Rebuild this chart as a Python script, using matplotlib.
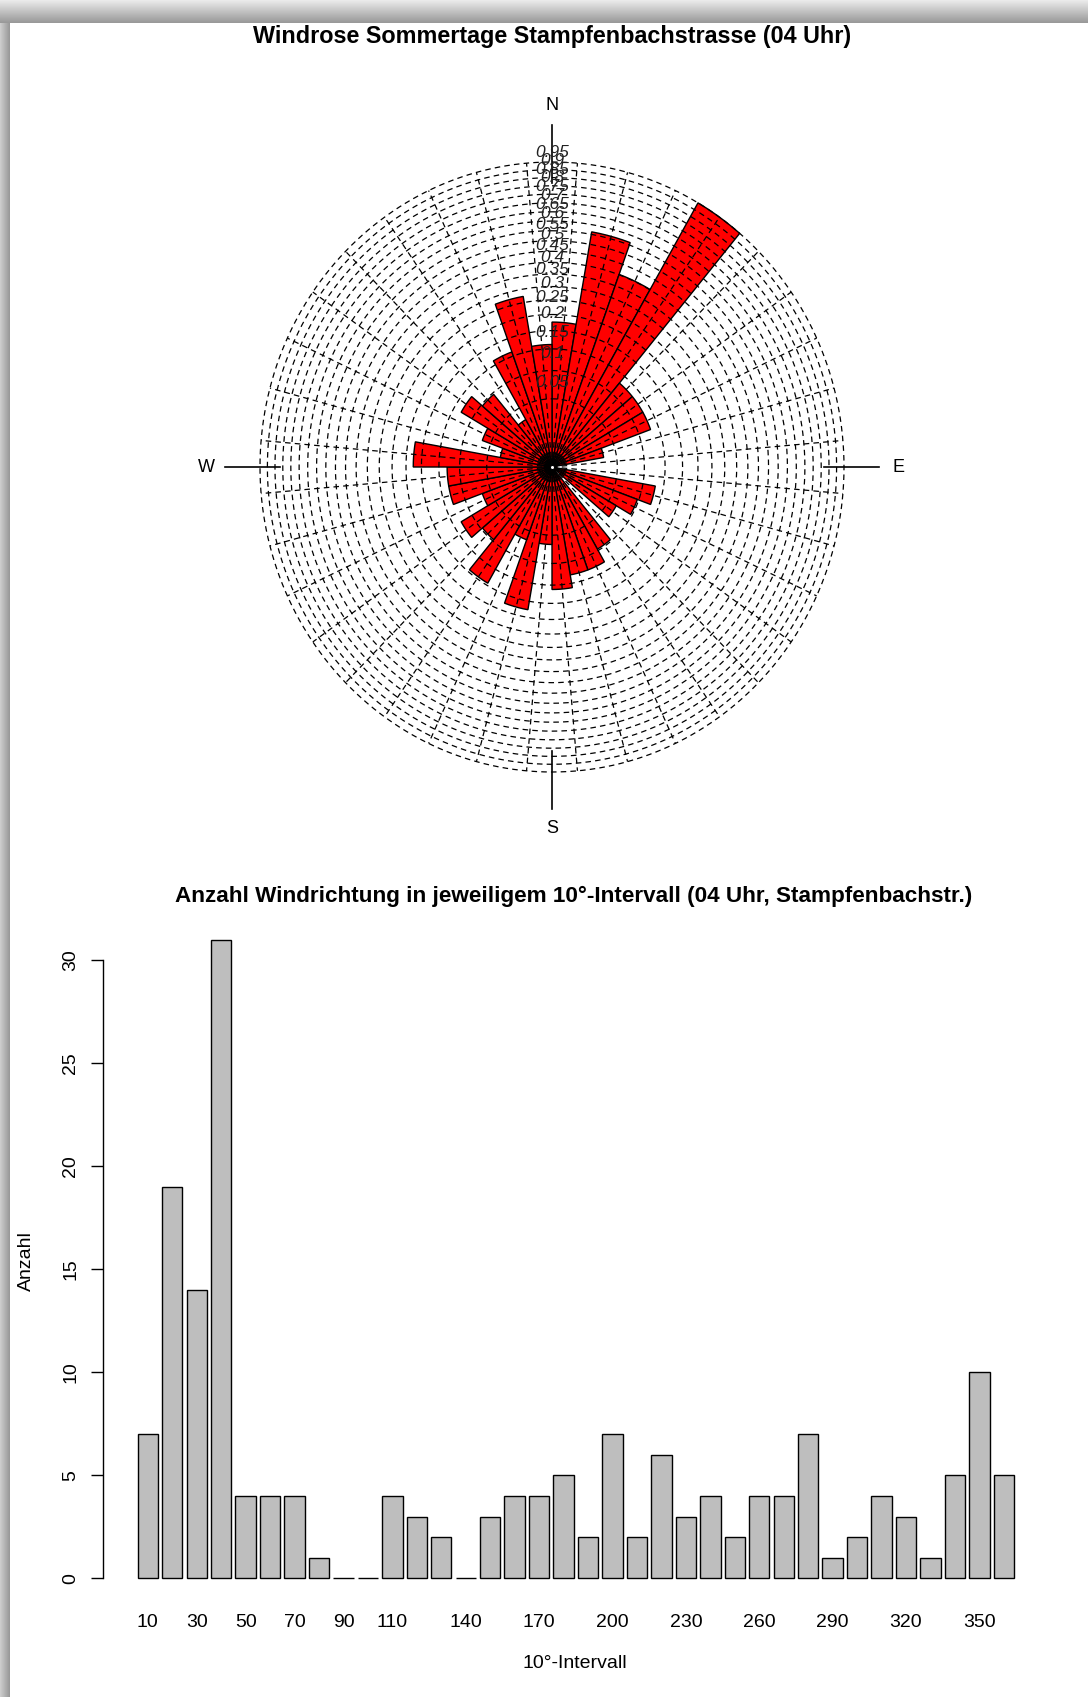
import numpy as np
import matplotlib
matplotlib.use("Agg")
import matplotlib.pyplot as plt
from matplotlib.patches import Polygon

W, H = 1088, 1697
DPI = 100

# wind direction counts per 10 degree interval (upper bound of interval)
intervals = np.arange(10, 361, 10)
counts = np.array([7, 19, 14, 31, 4, 4, 4, 1, 0, 0, 4, 3, 2, 0, 3, 4, 4, 5,
                   2, 7, 2, 6, 3, 4, 2, 4, 4, 7, 1, 2, 4, 3, 1, 5, 10, 5])
shown_labels = [10, 30, 50, 70, 90, 110, 140, 170, 200, 230, 260, 290, 320, 350]

ring_levels = np.round(np.arange(0.05, 1.0001, 0.05), 2)
ring_labels = ring_levels[:-1]
spoke_angles = np.arange(5, 360, 10)
compass = ["N", "E", "S", "W"]
compass_angles = [0, 90, 180, 270]

title_rose = "Windrose Sommertage Stampfenbachstrasse (04 Uhr)"
title_bar = "Anzahl Windrichtung in jeweiligem 10°-Intervall (04 Uhr, Stampfenbachstr.)"

plt.rcParams["font.family"] = ["Liberation Sans", "DejaVu Sans"]
plt.rcParams["lines.scale_dashes"] = False

fig = plt.figure(figsize=(W / DPI, H / DPI), dpi=DPI)


def px_axes(left, top, width, height):
    return fig.add_axes([left / W, 1 - (top + height) / H, width / W, height / H])


# window frame around the plot
bg = px_axes(0, 0, W, H)
frame = np.ones((H, W, 3))
top_h, left_w = 23, 10
frame[:top_h, :, :] = np.linspace(0.92, 0.6, top_h)[:, None, None]
frame[top_h:, :left_w, :] = np.linspace(0.8, 0.6, left_w)[None, :, None]
bg.imshow(frame, extent=(0, W, H, 0), aspect="auto", interpolation="nearest")
bg.set_xlim(0, W)
bg.set_ylim(H, 0)
bg.set_axis_off()

# ---- wind rose ----
cx, cy, rx, ry, lim = 552, 467, 292, 305, 1.3
ax = px_axes(cx - lim * rx, cy - lim * ry, 2 * lim * rx, 2 * lim * ry)
ax.set_xlim(-lim, lim)
ax.set_ylim(-lim, lim)
ax.set_axis_off()

for i, c in enumerate(counts):
    if c == 0:
        continue
    r = np.sqrt(c / counts.max())
    th = np.radians(np.linspace(i * 10, (i + 1) * 10, 6))
    xs = np.concatenate([[0], r * np.sin(th)])
    ys = np.concatenate([[0], r * np.cos(th)])
    ax.add_patch(Polygon(np.column_stack([xs, ys]), closed=True,
                         facecolor="red", edgecolor="black", lw=1.0, zorder=2))

t = np.linspace(0, 2 * np.pi, 721)
for lev in ring_levels:
    rr = np.sqrt(lev)
    ax.plot(rr * np.sin(t), rr * np.cos(t), color="black", lw=0.9,
            dashes=(4, 3), zorder=3)

for a in np.radians(spoke_angles):
    ax.plot([0, np.sin(a)], [0, np.cos(a)], color="black", lw=0.9,
            dashes=(4, 3), zorder=3)

for name, a in zip(compass, np.radians(compass_angles)):
    s, c = np.sin(a), np.cos(a)
    ax.plot([0.93 * s, 1.12 * s], [0.93 * c, 1.12 * c], color="black", lw=1.2, zorder=4)
    ax.text(1.185 * s, 1.185 * c, name, ha="center", va="center", fontsize=13)

ax.plot(0, 0, marker="o", ms=3, mfc="white", mec="black", mew=0.8, zorder=5)

for lev in ring_labels:
    ax.text(0, np.sqrt(lev) + 0.055, f"{lev:g}", fontstyle="italic", fontsize=12.5,
            ha="center", va="center", color="#222222", zorder=6)

fig.text(cx / W, 1 - 36 / H, title_rose, fontsize=16.8, fontweight="bold",
         ha="center", va="center")

# ---- bar chart ----
unit = 20.38
x0 = -1.50
bx = px_axes(103, 914, 46.656 * unit, 690)
bx.set_xlim(x0, x0 + 46.656)
bx.set_ylim(-1.24, 32.24)
lefts = 0.2 + np.arange(len(counts)) * 1.2
bx.bar(lefts, counts, width=1, align="edge", color="#bebebe",
       edgecolor="black", lw=1.0)
bx.patch.set_alpha(0)
for side in ["top", "right", "bottom"]:
    bx.spines[side].set_visible(False)
bx.spines["left"].set_bounds(0, 30)
bx.spines["left"].set_linewidth(1.0)
bx.set_yticks(range(0, 31, 5))
bx.tick_params(axis="y", length=9, width=1, labelsize=14, pad=8,
               labelrotation=90)
for lab in bx.get_yticklabels():
    lab.set_va("center")

label_idx = [list(intervals).index(v) for v in shown_labels]
bx.set_xticks(lefts[label_idx] + 0.5)
bx.set_xticklabels([str(v) for v in shown_labels])
bx.tick_params(axis="x", length=0, labelsize=14, pad=7)

fig.text(574 / W, 1 - 896 / H, title_bar, fontsize=16.2, fontweight="bold",
         ha="center", va="center")
fig.text(575 / W, 1 - 1664 / H, "10°-Intervall", fontsize=14,
         ha="center", va="center")
fig.text(26 / W, 1 - 1261 / H, "Anzahl", fontsize=14, rotation=90,
         ha="center", va="center")

fig.savefig("out.png", dpi=DPI)
